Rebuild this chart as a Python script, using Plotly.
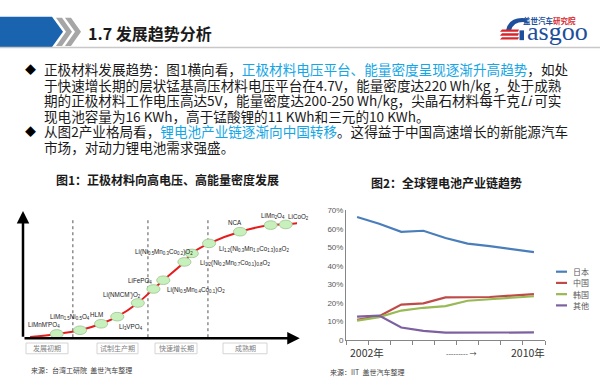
import plotly.graph_objects as go

W, H = 600, 391


def px(x):
    return x / W


def py(y):
    return 1 - y / H


def path(points):
    s = "M " + " L ".join(f"{px(a):.5f},{py(b):.5f}" for a, b in points) + " Z"
    return s


CJK = "Noto Sans CJK SC"

# ---------------- Figure 2 data (global Li-ion battery industry share, %) ----------------
years = [2002, 2003, 2004, 2005, 2006, 2007, 2008, 2009, 2010]
japan = [66.3, 62.7, 58.3, 58.9, 55.0, 52.0, 50.6, 48.8, 47.4]
china = [10.9, 12.9, 19.1, 19.8, 23.0, 23.0, 23.2, 24.0, 24.8]
korea = [10.5, 12.4, 15.9, 17.4, 18.3, 21.2, 22.0, 23.0, 23.6]
other = [12.6, 13.2, 6.8, 5.0, 4.0, 4.0, 4.4, 4.4, 4.1]
series_names = ["日本", "中国", "韩国", "其他"]
series_values = [japan, china, korea, other]
series_colors = ["#4a7ebb", "#be4b48", "#98b954", "#7d60a0"]
y_ticks = [0, 10, 20, 30, 40, 50, 60, 70]
y_tick_labels = ["0", "10%", "20%", "30%", "40%", "50%", "60%", "70%"]
x_labels = ["2002年", "--------- →", "2010年"]

# ---------------- Figure 1 data (cathode material development diagram) ----------------
stage_names = ["发展初期", "试制生产期", "快速增长期", "成熟期"]
stage_bounds = [18.2, 45.6, 67.5]
curve_x = [2.6, 12.3, 20.8, 28.5, 34.4, 41.9, 47.6, 51.2, 58.9, 61.6, 67.9, 79.2, 90.4, 95.9, 100.3]
curve_y = [0.8, 3.3, 6.2, 11.3, 16.9, 27.7, 38.7, 45.6, 60.0, 66.7, 74.6, 83.8, 89.0, 89.5, 90.5]
node_x = curve_x[1:-1]
node_y = curve_y[1:-1]
material_labels = [
    "LiMnM'PO<sub>4</sub>",
    "LiMn<sub>1.5</sub>Ni<sub>0.5</sub>O<sub>4</sub>",
    "HLM",
    "Li<sub>3</sub>VPO<sub>4</sub>",
    "Li(NMCM')O<sub>2</sub>",
    "LiFePO<sub>4</sub>",
    "Li(Ni<sub>0.5</sub>Mn<sub>0.4</sub>Co<sub>0.1</sub>)O<sub>2</sub>",
    "Li(Ni<sub>0.5</sub>Mn<sub>0.3</sub>Co<sub>0.2</sub>)O<sub>2</sub>",
    "Li<sub>1.2</sub>(Ni<sub>0.2</sub>Mn<sub>0.7</sub>Co<sub>0.1</sub>)<sub>0.8</sub>O<sub>2</sub>",
    "Li<sub>1.2</sub>(Ni<sub>0.3</sub>Mn<sub>1.0</sub>Co<sub>1.3</sub>)<sub>0.8</sub>O<sub>2</sub>",
    "NCA",
    "LiMn<sub>2</sub>O<sub>4</sub>",
    "LiCoO<sub>2</sub>",
]
label_pos = [(26, 329), (48, 320.5), (88, 318), (117, 331), (101, 298), (126, 284),
             (165, 293), (133, 253.5), (198, 265), (217, 251), (226, 224), (259, 217), (286, 218)]

# ---------------- Slide text ----------------
HL = "#14a6e6"
body_lines = [
    f"正极材料发展趋势：图1横向看，<span style='color:{HL}'>正极材料电压平台、能量密度呈现逐渐升高趋势</span>，如处",
    "于快速增长期的层状锰基高压材料电压平台在4.7V，能量密度达220 Wh/kg ，处于成熟",
    "期的正极材料工作电压高达5V，能量密度达200-250 Wh/kg，尖晶石材料每千克<i>Li</i> 可实",
    "现电池容量为16 KWh，高于锰酸锂的11 KWh和三元的10 KWh。",
    f"从图2产业格局看，<span style='color:{HL}'>锂电池产业链逐渐向中国转移</span>。这得益于中国高速增长的新能源汽车",
    "市场，对动力锂电池需求强盛。",
]
bullet_lines = [0, 4]

fig = go.Figure()

# Figure 2 lines
for name, vals, col in zip(series_names, series_values, series_colors):
    fig.add_trace(go.Scatter(x=years, y=vals, mode="lines", name=name,
                             line=dict(color=col, width=2.2), showlegend=False,
                             xaxis="x", yaxis="y"))

# Figure 1 curve
fig.add_trace(go.Scatter(x=curve_x, y=curve_y, mode="lines", line=dict(color="#e41c1c", width=2, shape="spline"),
                         showlegend=False, xaxis="x2", yaxis="y2"))

shapes = []
annotations = []


def note(text, x, y, size, color="#1a1a1a", family=CJK, xanchor="center", yanchor="middle"):
    annotations.append(dict(text=text, x=px(x), y=py(y), xref="paper", yref="paper",
                            xanchor=xanchor, yanchor=yanchor, showarrow=False,
                            font=dict(family=family, size=size, color=color)))


# Header
shapes.append(dict(type="path", xref="paper", yref="paper",
                   path=path([(0, 13), (52, 13), (63, 28.5), (52, 44), (0, 44)]),
                   fillcolor="#1a63ae", line=dict(width=0)))
for off in (0, 9):
    shapes.append(dict(type="path", xref="paper", yref="paper",
                       path=path([(56 + off, 14), (62 + off, 14), (72 + off, 28.5), (62 + off, 43),
                                  (56 + off, 43), (66 + off, 28.5)]),
                       fillcolor="#a6a6a6", line=dict(width=0)))
shapes.append(dict(type="line", xref="paper", yref="paper", x0=0, x1=1, y0=py(44.5), y1=py(44.5),
                   line=dict(color="#c8c8c8", width=1.5)))
note("<b>1.7 发展趋势分析</b>", 86, 29.5, 16, xanchor="left")

# Logo
note("<b><span style='color:#1d4f9c'>盖世汽车</span><span style='color:#d7262b'>研究院</span></b>",
     521, 17, 7.5, xanchor="left")
note("asgoo", 525, 28, 26, color="#1d4f9c", family="Liberation Serif", xanchor="left")
shapes.append(dict(type="path", xref="paper", yref="paper",
                   path=f"M {px(506):.5f},{py(27):.5f} Q {px(509):.5f},{py(13):.5f} {px(525):.5f},{py(14.5):.5f} "
                        f"L {px(528):.5f},{py(19):.5f} Q {px(514):.5f},{py(16.5):.5f} {px(511):.5f},{py(27):.5f} Z",
                   fillcolor="#1d4f9c", line=dict(width=0)))
for y0 in (26, 30, 34):
    shapes.append(dict(type="path", xref="paper", yref="paper",
                       path=path([(502, y0), (519, y0), (518, y0 + 2.4), (500, y0 + 2.4)]),
                       fillcolor="#d7262b", line=dict(width=0)))
shapes.append(dict(type="rect", xref="paper", yref="paper", x0=px(519.5), x1=px(524), y0=py(37), y1=py(27),
                   fillcolor="#1d4f9c", line=dict(width=0)))

# Body text
for i, line in enumerate(body_lines):
    yc = 67 + 15.8 * i
    note(line, 41.5, yc, 13.6, xanchor="left")
    if i in bullet_lines:
        note("◆", 30.5, yc, 11, color="#000000")

# Figure titles
note("<b>图1：正极材料向高电压、高能量密度发展</b>", 167, 180, 12)
note("<b>图2：全球锂电池产业链趋势</b>", 446, 183, 12)

# Figure 1 axes arrows
annotations.append(dict(text="", x=101, y=0, ax=0, ay=0, xref="x2", yref="y2", axref="x2", ayref="y2",
                        showarrow=True, arrowhead=2, arrowsize=1, arrowwidth=2.5, arrowcolor="#000000"))
annotations.append(dict(text="", x=0, y=100, ax=0, ay=0, xref="x2", yref="y2", axref="x2", ayref="y2",
                        showarrow=True, arrowhead=2, arrowsize=1, arrowwidth=2.5, arrowcolor="#000000"))

# Stage dividers
for b in stage_bounds:
    shapes.append(dict(type="line", xref="x2", yref="y2", x0=b, x1=b, y0=-4, y1=95,
                       line=dict(color="#555555", width=1, dash="dot"), layer="below"))

# Nodes (ellipses)
for nx, ny in zip(node_x, node_y):
    shapes.append(dict(type="circle", xref="x2", yref="y2", x0=nx - 2.4, x1=nx + 2.4, y0=ny - 3.4, y1=ny + 3.4,
                       fillcolor="#c8f0bd", line=dict(color="#9cc38f", width=0.8)))

# Material labels
for txt, (lx, ly) in zip(material_labels, label_pos):
    note(txt, lx, ly, 6.3, color="#1a1a1a", family="Liberation Sans", xanchor="left")

# Stage boxes
box_spans = [(26, 68), (97, 138), (155, 197), (223, 267)]
for name, (b0, b1) in zip(stage_names, box_spans):
    shapes.append(dict(type="rect", xref="paper", yref="paper", x0=px(b0), x1=px(b1), y0=py(358), y1=py(347),
                       line=dict(color="#d4d4d4", width=1), fillcolor="rgba(0,0,0,0)"))
    note(name, (b0 + b1) / 2, 352.5, 7, color="#808080")

# Sources
note("来源：台湾工研院  盖世汽车整理", 29, 375, 7, color="#404040", xanchor="left")
note("来源：IIT  盖世汽车整理", 328, 377, 7, color="#404040", xanchor="left")

# Figure 2 x labels
for txt, xc, fs in zip(x_labels, [367, 461, 528], [10.5, 7, 10.5]):
    note(txt, xc, 357, fs, color="#333333")

# Figure 2 legend (manual)
for i, (name, col) in enumerate(zip(series_names, series_colors)):
    yy = 274 + 11.5 * i
    shapes.append(dict(type="line", xref="paper", yref="paper", x0=px(556), x1=px(567), y0=py(yy), y1=py(yy),
                       line=dict(color=col, width=2.2)))
    note(name, 571, yy, 8, color="#595959", xanchor="left")

fig.update_layout(
    width=W, height=H, margin=dict(l=0, r=0, t=0, b=0),
    paper_bgcolor="white", plot_bgcolor="rgba(0,0,0,0)",
    showlegend=False,
    xaxis=dict(domain=[px(346), px(545)], range=[2001.5, 2010.5], anchor="y",
               tickvals=[2001.5 + i for i in range(10)], ticks="outside", ticklen=4, tickcolor="#868686",
               showticklabels=False, showline=True, linecolor="#868686", linewidth=1,
               showgrid=False, zeroline=False, fixedrange=True),
    yaxis=dict(domain=[py(344), py(211)], range=[0, 70], anchor="x",
               tickvals=y_ticks, ticktext=y_tick_labels, ticks="outside", ticklen=0,
               tickfont=dict(family="Liberation Sans", size=8, color="#595959"),
               showline=True, linecolor="#868686", linewidth=1, showgrid=False, zeroline=False),
    xaxis2=dict(domain=[px(23), px(297)], range=[0, 100], anchor="y2", visible=False),
    yaxis2=dict(domain=[py(342), py(212)], range=[0, 100], anchor="x2", visible=False),
    shapes=shapes,
    annotations=annotations,
)

fig.write_html("out.html", config={"displayModeBar": False},
               post_script="document.body.style.margin='0px';")
